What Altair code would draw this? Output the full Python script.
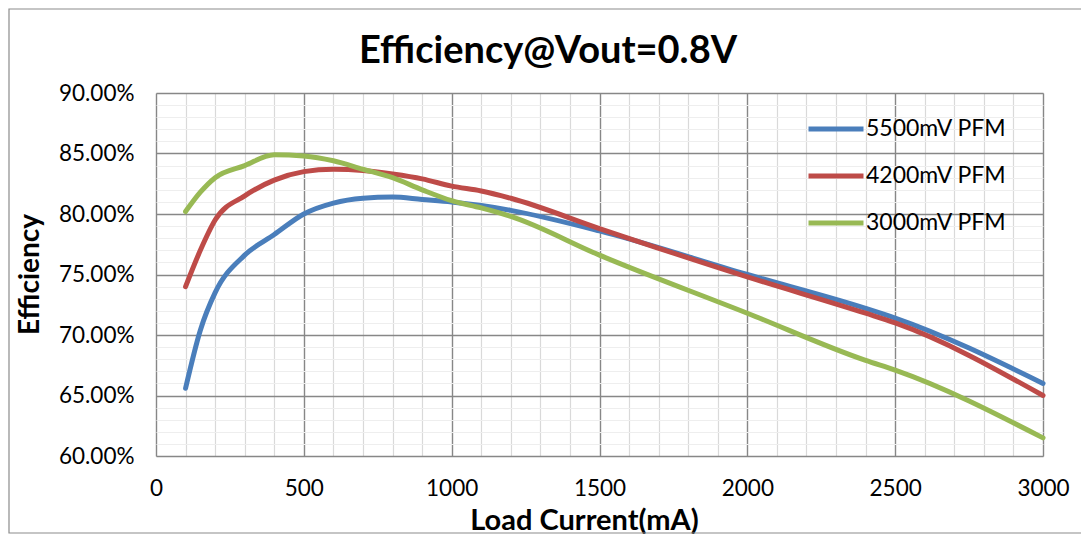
import altair as alt
import pandas as pd

load_ma = [100, 150, 200, 300, 400, 500, 600, 700, 800, 900, 1000, 1100, 1200, 1500, 2000, 2400, 2500, 3000]
eff_5500 = [65.6, 70.4, 73.5, 76.6, 78.3, 80.0, 80.9, 81.3, 81.4, 81.2, 81.0, 80.7, 80.3, 78.6, 75.0, 72.2, 71.4, 66.0]
eff_4200 = [74.0, 77.0, 79.5, 81.5, 82.8, 83.5, 83.7, 83.6, 83.3, 82.9, 82.3, 81.9, 81.3, 78.8, 74.8, 71.8, 71.0, 65.0]
eff_3000 = [80.2, 81.8, 83.0, 84.0, 84.9, 84.8, 84.4, 83.7, 83.0, 82.0, 81.1, 80.5, 79.8, 76.6, 71.8, 67.9, 67.1, 61.5]
series_names = ["5500mV PFM", "4200mV PFM", "3000mV PFM"]
series_colors = ["#4A7EBB", "#BE4B48", "#98B954"]
x_ticks = list(range(0, 3001, 100))
y_ticks = list(range(60, 91, 1))
chart_title = "Efficiency@Vout=0.8V"

rows = []
for name, vals in zip(series_names, [eff_5500, eff_4200, eff_3000]):
    for x, v in zip(load_ma, vals):
        rows.append({"Load": x, "Eff": v, "Series": name})
df = pd.DataFrame(rows)

FONT = "Lato"
MAJOR = "#878787"

lines = alt.Chart(df).mark_line(strokeWidth=5, strokeCap="round", strokeJoin="round", interpolate="monotone").encode(
    x=alt.X("Load:Q", scale=alt.Scale(domain=[0, 3000], nice=False),
            axis=alt.Axis(values=x_ticks, title="Load Current(mA)", format="d",
                          labelExpr="datum.value % 500 === 0 ? datum.label : ''",
                          labelOverlap=False, labelFlush=False, ticks=False, domain=False,
                          gridColor=alt.condition("datum.value % 500 === 0", alt.value(MAJOR), alt.value("#D9D9D9")),
                          gridWidth=alt.condition("datum.value % 500 === 0", alt.value(1.4), alt.value(1.2)),
                          labelFont=FONT, labelFontSize=22.5, labelColor="#000000", labelPadding=21,
                          titleFont=FONT, titleFontSize=29, titleFontWeight="bold", titleColor="#000000",
                          titleX=428, titleY=73, titleAlign="center", titleBaseline="alphabetic")),
    y=alt.Y("Eff:Q", scale=alt.Scale(domain=[60, 90], nice=False, zero=False),
            axis=alt.Axis(values=y_ticks, title="Efficiency",
                          labelExpr="datum.value % 5 === 0 ? format(datum.value, '.2f') + '%' : ''",
                          labelOverlap=False, ticks=False, domain=False,
                          gridColor=alt.condition("datum.value % 5 === 0", alt.value(MAJOR), alt.value("#EEEEEE")),
                          gridWidth=alt.condition("datum.value % 5 === 0", alt.value(1.4), alt.value(1.2)),
                          labelFont=FONT, labelFontSize=22.5, labelColor="#000000", labelPadding=22,
                          titleFont=FONT, titleFontSize=28, titleFontWeight="bold", titleColor="#000000",
                          titleX=-126, titleY=181, titleAngle=270, titleAlign="center", titleBaseline="middle")),
    color=alt.Color("Series:N", sort=series_names,
                    scale=alt.Scale(domain=series_names, range=series_colors),
                    legend=alt.Legend(title=None, orient="none", legendX=650, legendY=6,
                                      symbolType="stroke", symbolSize=3025, symbolStrokeWidth=5,
                                      labelFont=FONT, labelFontSize=23, labelColor="#000000",
                                      labelOffset=0, rowPadding=5)),
)

frame_df = pd.DataFrame({"k": [0]})
frame = alt.Chart(frame_df).mark_rect(fill=None, stroke="#8C8C8C", strokeWidth=1.2).encode(
    x=alt.value(-147), x2=alt.value(929), y=alt.value(-84), y2=alt.value(440)
)

title_df = pd.DataFrame({"t": [chart_title]})
title = alt.Chart(title_df).mark_text(font=FONT, fontSize=38, fontWeight="bold", color="#000000",
                                      align="center", baseline="alphabetic").encode(
    text="t:N", x=alt.value(392), y=alt.value(-30)
)

chart = alt.layer(lines, frame, title).properties(
    width=887, height=363,
    autosize=alt.AutoSizeParams(type="none"),
    padding={"left": 148, "top": 85, "right": 38, "bottom": 78},
).configure_view(stroke=MAJOR, strokeWidth=1.4).configure(background="white")

chart.save("out.html", embed_options={"renderer": "svg", "actions": False})
